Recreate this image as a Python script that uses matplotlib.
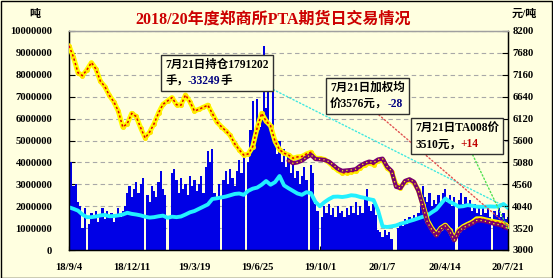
import numpy as np
import pandas as pd
import matplotlib
matplotlib.use("Agg")
import matplotlib.pyplot as plt
import matplotlib.dates as mdates
from matplotlib.offsetbox import TextArea, HPacker, VPacker, AnnotationBbox
from matplotlib.patches import Rectangle

# ---------------- data ----------------
start = pd.Timestamp("2018-09-04")
tick_labels = ["18/9/4", "18/12/11", "19/3/19", "19/6/25", "19/10/1", "20/1/7", "20/4/14", "20/7/21"]

# daily volume (million tons), sampled every half week
volume_m = [
    3.0, 4.0, 2.9, 3.0, 2.2, 2.0, 1.0, 1.9, 0, 1.2,
    1.7, 1.5, 1.8, 1.3, 1.6, 1.9, 1.4, 1.8, 1.5, 1.7,
    1.3, 1.6, 1.9, 1.5, 1.8, 2.0, 2.6, 2.9, 2.4, 2.8,
    3.1, 2.6, 3.0, 3.3, 0, 2.5, 2.2, 2.9, 2.7, 2.4,
    3.1, 3.6, 2.8, 2.5, 0, 1.4, 3.5, 3.7, 3.2, 2.6,
    3.3, 2.8, 3.0, 2.5, 3.4, 2.9, 3.2, 2.7, 3.0, 3.4,
    2.6, 3.8, 4.5, 4.0, 4.6, 2.6, 2.4, 3.0, 0, 3.2,
    3.6, 3.0, 3.7, 3.3, 2.9, 3.6, 4.1, 3.5, 4.4, 0,
    4.0, 5.5, 6.8, 5.0, 6.9, 5.6, 6.2, 9.3, 6.5, 7.5,
    5.6, 7.4, 5.2, 4.4, 5.0, 4.0, 4.6, 3.8, 4.3, 3.5,
    4.0, 3.3, 3.6, 3.0, 3.4, 3.8, 3.2, 0, 3.9, 3.5,
    2.1, 1.8, 0, 1.5, 2.0, 1.7, 2.1, 1.6, 1.9, 1.5,
    2.0, 1.7, 1.8, 1.5, 1.9, 1.6, 2.0, 1.7, 2.2, 1.6,
    2.0, 1.7, 2.4, 2.8, 2.0, 1.8, 2.1, 1.6, 0.9, 0.8,
    0.6, 0.9, 0.7, 0.8, 0.5, 0, 0, 1.0, 1.3, 1.1,
    1.4, 1.2, 1.5, 1.3, 1.6, 1.4, 1.7, 2.5, 2.9, 2.4,
    2.2, 2.6, 2.0, 2.3, 2.1, 2.5, 2.2, 2.6, 2.8, 2.2,
    2.5, 2.0, 2.4, 0, 2.3, 2.6, 2.1, 2.4, 2.0, 2.3,
    1.8, 2.1, 1.7, 2.0, 1.6, 1.9, 1.7, 2.0, 1.5, 0,
    1.8, 1.6, 1.9, 1.5, 1.7, 1.4, 1.5,
]

# open interest (million), weekly
open_interest_m = [
    1.95, 1.88, 1.80, 1.62, 1.50, 1.50, 1.53, 1.58, 1.60, 1.54,
    1.55, 1.58, 1.62, 1.70, 1.65, 1.62, 1.58, 1.52, 1.48, 1.50,
    1.54, 1.57, 1.47, 1.52, 1.50, 1.53, 1.62, 1.72, 1.78, 1.88,
    1.98, 2.08, 2.33, 2.36, 2.40, 2.44, 2.50, 2.56, 2.58, 2.52,
    2.70, 2.80, 2.85, 2.98, 3.15, 2.98, 3.10, 3.38, 2.95, 2.82,
    2.70, 2.58, 2.52, 2.64, 2.60, 2.20, 2.00, 2.18, 2.32, 2.43,
    2.44, 2.42, 2.45, 2.50, 2.48, 2.42, 2.38, 2.32, 2.28, 1.80,
    1.08, 1.05, 1.08, 1.12, 1.20, 1.25, 1.32, 1.38, 1.45, 1.52,
    1.58, 1.72, 1.85, 2.10, 2.35, 2.20, 2.10, 1.98, 2.00, 2.05,
    2.02, 1.98, 1.97, 1.98, 1.99, 1.98, 2.00, 2.10, 1.92,
]

# weighted average price (yuan/ton), weekly
weighted_price = [
    7850, 7580, 7210, 7140, 7280, 7450, 7300, 7010, 6880, 6670,
    6520, 6300, 5920, 6000, 6245, 6170, 5900, 5660, 5800, 6000,
    6260, 6460, 6540, 6620, 6450, 6440, 6680, 6520, 6300, 6340,
    6390, 6440, 6240, 6040, 5930, 5830, 5720, 5520, 5380, 5255,
    5280, 5450, 5900, 6245, 6060, 5950, 5580, 5380, 5300, 5255,
    5180, 5210, 5220, 5280, 5320, 5180, 5175, 5150, 5080, 4980,
    4890, 4830, 4840, 4860, 4870, 4950, 5020, 5060, 5030, 5120,
    5140, 4950, 4860, 4550, 4480, 4620, 4660, 4600, 4420, 4080,
    3700, 3510, 3370, 3520, 3590, 3470, 3260, 3470, 3555, 3610,
    3660, 3740, 3740, 3715, 3690, 3670, 3650, 3620, 3576,
]

# TA main contract price (yuan/ton), weekly from week 49
ta_price = [
    5120, 5060, 5080, 5120, 5200, 5260, 5160, 5150, 5140, 5100,
    5020, 4930, 4880, 4890, 4900, 4920, 5000, 5060, 5100, 5080,
    5150, 5170, 4980, 4880, 4500, 4470, 4640, 4680, 4620, 4400,
    4040, 3660, 3480, 3340, 3500, 3570, 3440, 3230, 3440, 3530,
    3580, 3630, 3700, 3700, 3680, 3650, 3620, 3600, 3560, 3510,
]

# ---------------- positions ----------------
vol_x = mdates.date2num(start) + np.arange(len(volume_m)) * 3.5
week_x = mdates.date2num(start) + np.arange(len(open_interest_m)) * 7.0
ta_x = week_x[len(week_x) - len(ta_price):]
tick_x = mdates.date2num(start) + np.arange(len(tick_labels)) * 98.0

BG = "#FFFFE0"
W, H = 553, 278
fig = plt.figure(figsize=(W / 100, H / 100), dpi=100, facecolor=BG)
ax = fig.add_axes([69 / W, 1 - 250 / H, (508 - 69) / W, (250 - 31) / H])
ax.set_facecolor(BG)
ax2 = ax.twinx()

lab_font = dict(family=["Liberation Serif", "Noto Sans CJK SC"], weight="bold", size=7.7)

# bars
ax.bar(vol_x, np.array(volume_m) * 1e6, width=3.5, color="#0000E6", linewidth=0, zorder=2, align="center")
# open interest line
ax.plot(week_x, np.array(open_interest_m) * 1e6, color="#22F0FF", lw=2.8, zorder=3, solid_capstyle="round",
        solid_joinstyle="round")

ax.set_ylim(0, 10_000_000)
ax.set_yticks(np.arange(0, 10_000_001, 1_000_000))
ax.set_yticklabels([f"{v}" for v in range(0, 10_000_001, 1_000_000)], **lab_font)
ax.set_xlim(tick_x[0], tick_x[-1])
ax.set_xticks(tick_x)
ax.set_xticklabels(tick_labels, **lab_font)
ax.grid(axis="y", color="#A8A8A8", linestyle=(0, (4, 3)), lw=0.8, zorder=0)
ax.set_axisbelow(True)
ax.tick_params(axis="y", direction="in", length=4, pad=12, width=0.8)
ax.tick_params(axis="x", direction="in", length=3, pad=9, width=0.8)

# price axis
ax2.plot(week_x, weighted_price, color="#FFFF00", lw=3.6, zorder=4, solid_joinstyle="round",
         solid_capstyle="round")
ax2.plot(week_x, weighted_price, ls="none", marker="o", ms=2.6, mfc="#FFE800", mec="#FFE800", zorder=4)
ax2.plot(week_x, weighted_price, color="#E00000", lw=1.1, ls=(0, (1.5, 1.5)), zorder=5)
ax2.plot(ta_x, ta_price, color="#22DD22", lw=1.6, zorder=6)
ax2.plot(ta_x, ta_price, color="#7A0070", lw=3.0, zorder=7, solid_joinstyle="round", solid_capstyle="round")
ax2.plot(ta_x, ta_price, color="#FFFF00", lw=0.9, ls=(0, (1, 2.5)), zorder=8)
ax2.set_ylim(3000, 8200)
ax2.set_yticks(np.arange(3000, 8201, 520))
ax2.set_yticklabels([str(v) for v in range(3000, 8201, 520)], **lab_font)
ax2.tick_params(axis="y", direction="in", length=4, pad=3, width=0.8)

for a in (ax, ax2):
    a.spines["top"].set_color("#A0A0A0")
    a.spines["left"].set_color("black")
    a.spines["right"].set_color("black")
    a.spines["bottom"].set_color("black")
    for s in a.spines.values():
        s.set_linewidth(0.9)

# titles / unit labels
fig.text(273 / W, 1 - 20 / H, "2018/20年度郑商所PTA期货日交易情况", ha="center", va="center",
         color="#CC0000", family=["Liberation Serif", "Noto Sans CJK SC"], weight="bold", size=11.5)
fig.text(35 / W, 1 - 14 / H, "吨", ha="center", va="center", family=["Noto Sans CJK SC"], weight="bold", size=8)
fig.text(524 / W, 1 - 14 / H, "元/吨", ha="center", va="center",
         family=["Liberation Serif", "Noto Sans CJK SC"], weight="bold", size=8)

# annotation boxes
box_font = dict(family=["Liberation Serif", "Noto Sans CJK SC"], weight="bold", size=8.3)


def make_box(lines):
    rows = []
    for parts in lines:
        rows.append(HPacker(children=[TextArea(t, textprops=dict(color=c, **box_font)) for t, c in parts],
                            align="baseline", pad=0, sep=0))
    return VPacker(children=rows, align="left", pad=0, sep=3)


bbox_style = dict(boxstyle="square,pad=0.3", fc=BG, ec="#303030", lw=1.0)

ab1 = AnnotationBbox(
    make_box([[("7月21日持仓1791202", "black")], [("手，", "black"), ("-33249", "#000080"), ("手", "black")]]),
    xy=(week_x[-1], open_interest_m[-1] * 1e6), xycoords=ax.transData,
    xybox=(165, H - 59), boxcoords="figure pixels", box_alignment=(0, 1),
    bboxprops=bbox_style, pad=0.3,
    arrowprops=dict(arrowstyle="-", color="#40E8E0", ls=":", lw=1.0, relpos=(1.0, 0.0), shrinkA=0, shrinkB=0),
    zorder=10)
ax2.add_artist(ab1)

ab2 = AnnotationBbox(
    make_box([[("7月21日加权均", "black")], [("价3576元，", "black"), ("-28", "#000080")]]),
    xy=(week_x[-1], weighted_price[-1]), xycoords=ax2.transData,
    xybox=(330, H - 82), boxcoords="figure pixels", box_alignment=(0, 1),
    bboxprops=bbox_style, pad=0.3,
    arrowprops=dict(arrowstyle="-", color="#E05050", ls=":", lw=1.0, relpos=(0.58, 0.0), shrinkA=0, shrinkB=0),
    zorder=10)
ax2.add_artist(ab2)

ab3 = AnnotationBbox(
    make_box([[("7月21日TA008价", "black")], [("3510元，", "black"), ("+14", "#C00000")]]),
    xy=(week_x[-1], ta_price[-1]), xycoords=ax2.transData,
    xybox=(415, H - 122), boxcoords="figure pixels", box_alignment=(0, 1),
    bboxprops=bbox_style, pad=0.3,
    arrowprops=dict(arrowstyle="-", color="#50E050", ls=":", lw=1.0, relpos=(0.66, 0.0), shrinkA=0, shrinkB=0),
    zorder=10)
ax2.add_artist(ab3)

# outer frame
fig.patches.append(Rectangle((0.5 / W, 0.5 / H), 1 - 1.5 / W, 1 - 1.5 / H, transform=fig.transFigure,
                             fill=False, ec="black", lw=1.0))

fig.savefig("out.png", dpi=100, facecolor=BG)
